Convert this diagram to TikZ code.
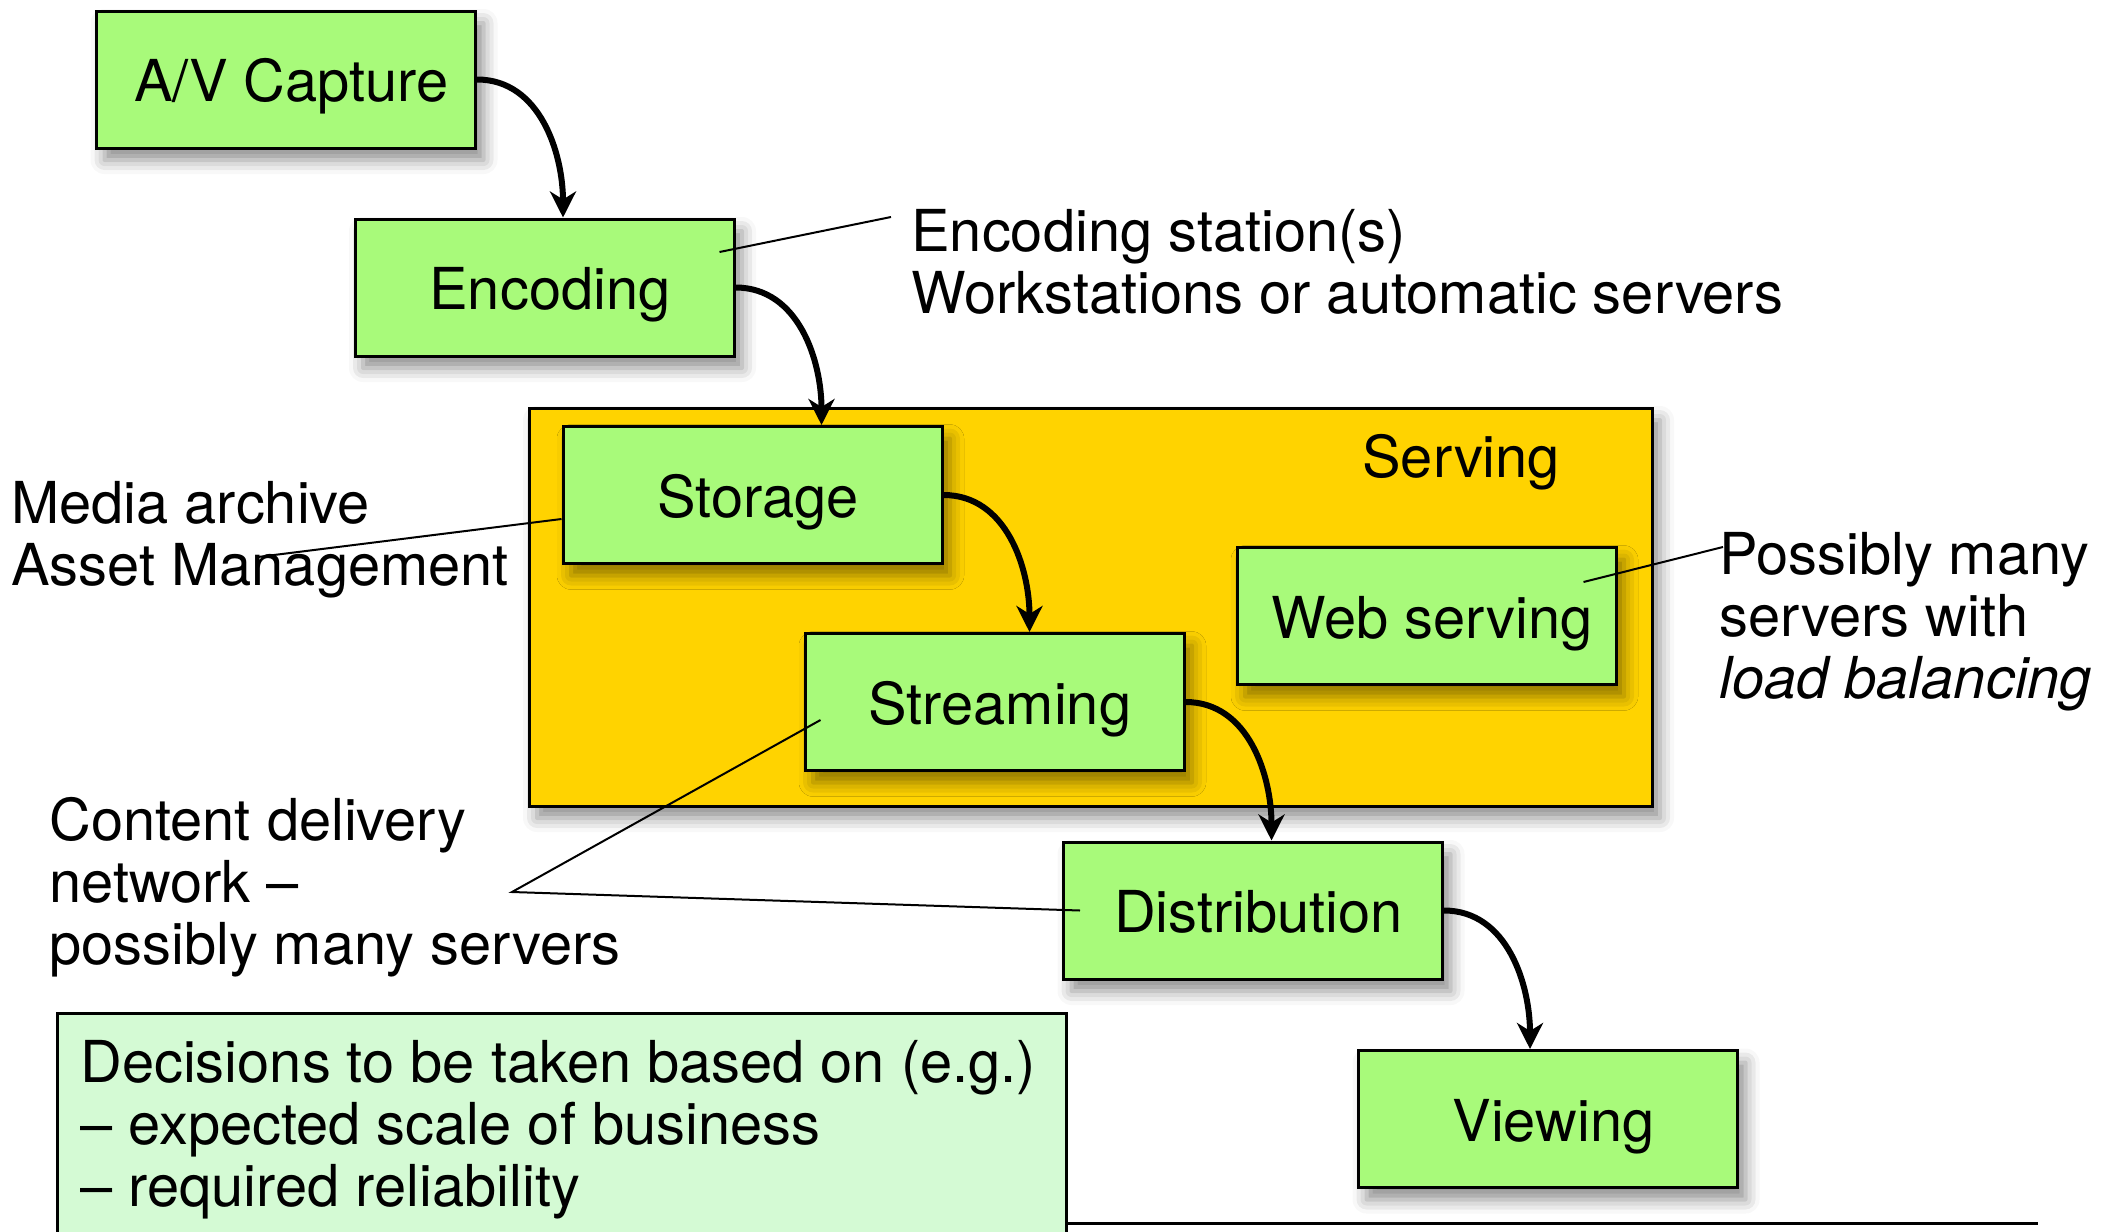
\documentclass[tikz,border=0pt]{standalone}
\usepackage{fontspec}
\setmainfont{TeX Gyre Heros}
\usepackage{tikz}
\usetikzlibrary{ 
  	positioning,
  	arrows.meta,
  	shadows,
  	shadows.blur,
  	calc
  }
\definecolor{stagegreen}{RGB}{168,250,122}
\definecolor{servegold}{RGB}{255,211,0}
\definecolor{notemint}{RGB}{212,250,212}
\tikzstyle{soft}=[blur shadow={shadow xshift=4pt,shadow yshift=-6pt,shadow blur radius=7pt,shadow opacity=45}]
\tikzstyle{stage}=[draw,line width=1.5pt,fill=stagegreen,minimum width=189.5pt,minimum height=68.5pt,inner sep=0pt,text height=22pt,text depth=0pt,execute at begin node={\hspace*{5.4pt}},soft]
\tikzstyle{flow}=[line width=3pt,-{Stealth[length=13pt,width=13pt,inset=4pt]},out=0,in=90]
\tikzstyle{pin}=[line width=1pt]
\tikzstyle{note}=[anchor=north west,align=left,inner sep=0pt]

\begin{document}
\begin{tikzpicture}[x=0.5pt,y=-0.5pt,font=\fontsize{28.9pt}{31pt}\selectfont]
\useasboundingbox (0,0) rectangle (2111,1232);
\clip (0,0) rectangle (2111,1232);
\node[draw,line width=1.5pt,fill=servegold,minimum width=561.5pt,minimum height=199pt,soft] (serving) at (1090.5,607) {};
\node[anchor=base west,inner sep=0pt] (servinglabel) at (1362,477) {Serving};
\node[stage] (cap) at (286,79.5) {A/V Capture};
\node[stage] (enc) at (544.5,287.5) {Encoding};
\node[stage] (store) at (752.5,495) {Storage};
\node[stage] (stream) at (994.5,702) {Streaming};
\node[stage] (web) at (1426.5,616) {Web serving};
\node[stage] (dist) at (1253,910.5) {Distribution};
\node[stage] (view) at (1548,1119) {Viewing};
\draw[flow] (cap.east) to ([xshift=43pt]cap.east |- enc.north);
\draw[flow] (enc.east) to ([xshift=43pt]enc.east |- store.north);
\draw[flow] (store.east) to ([xshift=43pt]store.east |- stream.north);
\draw[flow] (stream.east) to ([xshift=43pt]stream.east |- dist.north);
\draw[flow] (dist.east) to ([xshift=43pt]dist.east |- view.north);
\node[note] (encnote) at (911,209) {Encoding station(s)\\Workstations or automatic servers};
\node[note] (archnote) at (11,481) {Media archive\\Asset Management};
\node[note] (balnote) at (1719,532) {Possibly many\\servers with\\\textit{load balancing}};
\node[note] (cdnnote) at (49,797) {Content delivery\\network –\\possibly many servers};
\node[draw,line width=1.5pt,fill=notemint,anchor=north west,minimum width=504.5pt,minimum height=150pt] (decide) at (56,1012) {};
\node[note] (decidenote) at (80,1040) {Decisions to be taken based on (e.g.)\\– expected scale of business\\– required reliability};
\coordinate (ruleend) at (2038,1223);
\draw[line width=1.5pt] (decide.east |- ruleend) -- (ruleend);
\coordinate (encpin) at (891,217);
\draw[pin] ($(enc.east)+(-16,-35.5)$) -- (encpin);
\coordinate (archpin) at (258,557);
\draw[pin] ($(store.west)+(0,24)$) -- (archpin);
\coordinate (balpin) at (1723,547);
\draw[pin] ($(web.east)+(-34,-34)$) -- (balpin);
\coordinate (cdnpin) at (512,892);
\draw[pin] ($(stream.west)+(17,18)$) -- (cdnpin) -- ($(dist.west)+(18,0)$);
\end{tikzpicture}
\end{document}
